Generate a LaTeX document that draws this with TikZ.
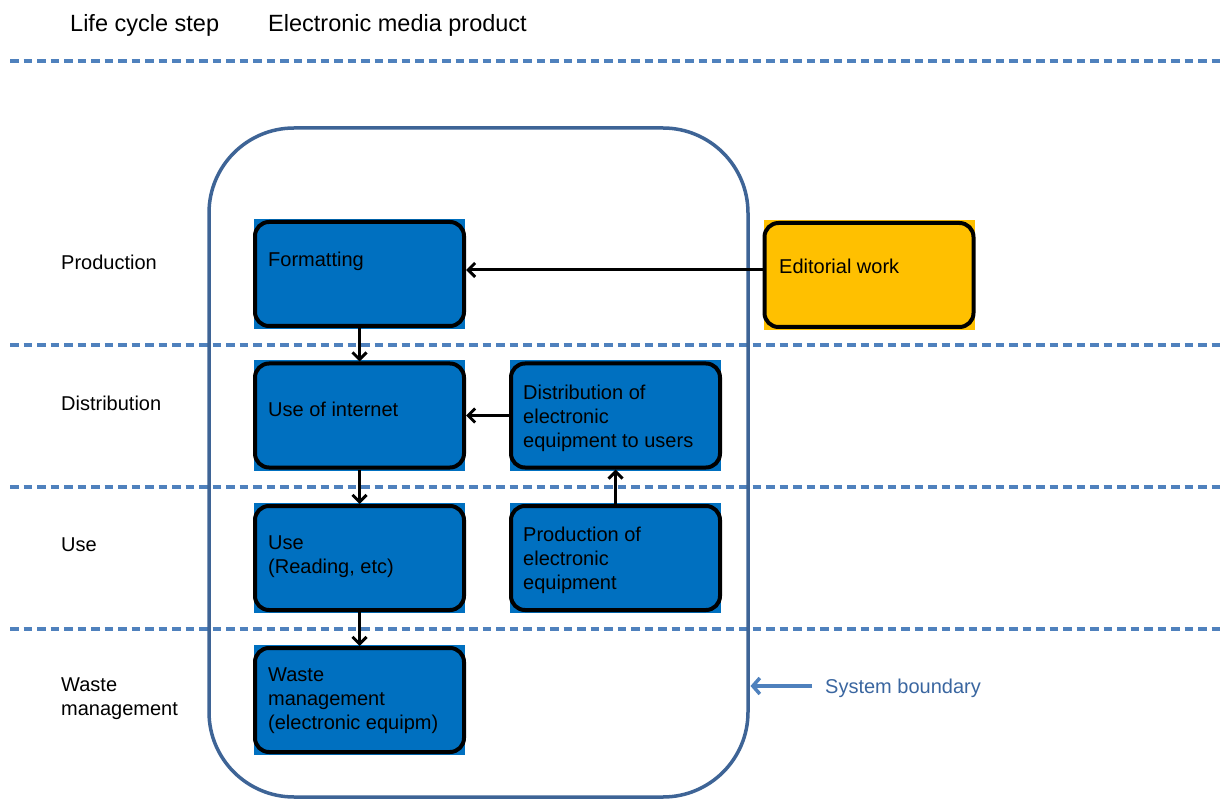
\documentclass[tikz,border=0pt]{standalone}
\usepackage{fontspec}
\setmainfont{Liberation Sans}
\usetikzlibrary{arrows.meta,backgrounds}
\definecolor{boxblue}{HTML}{0070C0}
\definecolor{boxyellow}{HTML}{FFC000}
\definecolor{dashblue}{HTML}{4F81BD}
\definecolor{boundblue}{HTML}{3E6496}
\definecolor{labelblue}{HTML}{3A66A0}
\tikzset{
  stepbox/.style={draw=black, line width=4pt, rounded corners=14pt, fill=boxblue,
    minimum width=209pt, minimum height=104pt, inner sep=0pt},
  edbox/.style={stepbox, fill=boxyellow},
  lbl/.style={anchor=west, inner sep=0pt, align=left, font=\fontsize{20}{24}\selectfont},
  hdr/.style={anchor=west, inner sep=0pt, font=\fontsize{23.5}{28}\selectfont},
  sep/.style={dashblue, line width=3.5pt, dash pattern=on 8.5pt off 5pt},
  flow/.style={black, line width=3pt, -{Straight Barb[length=7pt,width=14pt]}},
  bflow/.style={dashblue, line width=3.5pt, -{Straight Barb[length=7pt,width=16pt]}},
}
\begin{document}
\begin{tikzpicture}[x=1pt,y=-1pt]
\useasboundingbox (0,0) rectangle (1223,799);
% header
\node[hdr] (h1) at (70,25) {Life cycle step};
\node[hdr] (h2) at (268,25) {Electronic media product};
% separators
\coordinate (s1a) at (10,61);  \coordinate (s1b) at (1220,61);
\coordinate (s2a) at (10,345); \coordinate (s2b) at (1220,345);
\coordinate (s3a) at (10,487); \coordinate (s3b) at (1220,487);
\coordinate (s4a) at (10,629); \coordinate (s4b) at (1220,629);
\draw[sep] (s1a) -- (s1b);
\draw[sep] (s2a) -- (s2b);
\draw[sep] (s3a) -- (s3b);
\draw[sep] (s4a) -- (s4b);
% system boundary
\draw[boundblue, line width=3.5pt, rounded corners=85pt] (209,128) rectangle (748,797);
% left labels
\node[lbl] (lp) at (61,262) {Production};
\node[lbl] (ld) at (61,403) {Distribution};
\node[lbl] (lu) at (61,545) {Use};
\node[lbl] (lw) at (61,699) {Waste\\management};
% boxes
\node[stepbox] (fmt) at (359.5,274) {};
\node[edbox] (edit) at (869,275) {};
\node[stepbox] (net) at (359.5,415.5) {};
\node[stepbox] (dist) at (615.5,415.5) {};
\node[stepbox] (use) at (359.5,558) {};
\node[stepbox] (prod) at (615.5,558) {};
\node[stepbox] (waste) at (359.5,700) {};
\begin{pgfonlayer}{background}
\foreach \n in {fmt,net,dist,use,prod,waste}
  \fill[boxblue] ([shift={(1pt,-1pt)}]\n.south west) rectangle ([shift={(-1pt,1pt)}]\n.north east);
\fill[boxyellow] ([shift={(1pt,-1pt)}]edit.south west) rectangle ([shift={(-1pt,1pt)}]edit.north east);
\end{pgfonlayer}
% box texts
\node[lbl] (tfmt) at (268,261) {Formatting};
\node[lbl] (tedit) at (779,266) {Editorial work};
\node[lbl] (tnet) at (268,409) {Use of internet};
\node[lbl] (tdist) at (523,418) {Distribution of\\electronic\\equipment to users};
\node[lbl] (tuse) at (268,557) {Use\\(Reading, etc)};
\node[lbl] (tprod) at (523,560) {Production of\\electronic\\equipment};
\node[lbl] (twaste) at (268,701) {Waste\\management\\(electronic equipm)};
% connectors
\draw[flow] (edit.west |- 0,270) -- (fmt.east |- 0,270);
\draw[flow] (fmt.south) -- (net.north);
\draw[flow] (dist.west) -- (net.east |- dist.west);
\draw[flow] (net.south) -- (use.north);
\draw[flow] (use.south) -- (waste.north);
\draw[flow] (prod.north) -- (dist.south);
% system boundary label
\coordinate (sbstart) at (812,686);
\draw[bflow] (sbstart) -- (750.5,686);
\node[lbl, text=labelblue] (sb) at (825,688) {System boundary};
\end{tikzpicture}
\end{document}
